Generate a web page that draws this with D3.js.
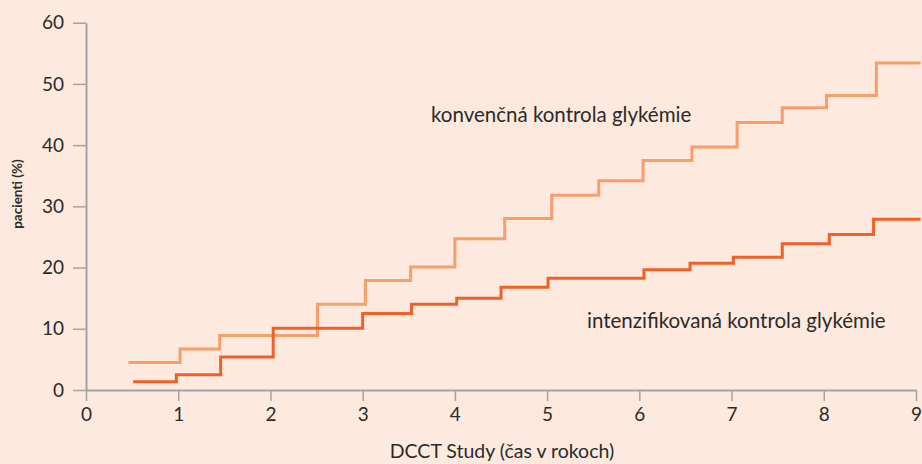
<!DOCTYPE html>
<html>
<head>
<meta charset="utf-8">
<script src="https://cdn.jsdelivr.net/npm/d3@7"></script>
<style>
  html, body { margin: 0; padding: 0; background: #fde9dd; }
  svg { display: block; font-family: Lato, "Open Sans", sans-serif; }
</style>
</head>
<body>
<div id="chart"></div>
<script>
const width = 922;
const height = 464;

// tick labels
const xTicks = [0, 1, 2, 3, 4, 5, 6, 7, 8, 9];
const yTicks = [0, 10, 20, 30, 40, 50, 60];

// step points [rok, %] - konvenčná kontrola
const convX = [0.46, 1.02, 1.45, 2.51, 3.03, 3.52, 4.0, 4.54, 5.05, 5.56, 6.04, 6.57, 7.06, 7.55, 8.03, 8.57, 9.05];
const convY = [4.5, 6.7, 8.9, 14.0, 17.9, 20.1, 24.7, 28.0, 31.8, 34.2, 37.5, 39.7, 43.7, 46.1, 48.1, 53.4, 53.4];

// intenzifikovaná kontrola
const intX = [0.51, 0.98, 1.46, 2.03, 3.0, 3.53, 4.02, 4.5, 5.01, 6.05, 6.55, 7.02, 7.55, 8.06, 8.54, 9.05];
const intY = [1.35, 2.5, 5.4, 10.1, 12.5, 14.0, 15.0, 16.8, 18.25, 19.65, 20.7, 21.7, 23.9, 25.4, 27.9, 27.9];

const convColor = '#f99d6c';
const intColor = '#f0612a';
const axisColor = '#a3a3a3';
const textColor = '#2b2b2b';

const x = d3.scaleLinear().domain([0, 9]).range([86, 916]);
const y = d3.scaleLinear().domain([0, 60]).range([390, 22.7]);

const svg = d3.select('#chart')
    .append('svg')
    .attr('width', width)
    .attr('height', height);

svg.append('rect')
    .attr('width', width)
    .attr('height', height)
    .attr('fill', '#fde9dd');

// y axis
const yAxis = svg.append('g')
    .attr('transform', `translate(${x(0)},0)`)
    .call(d3.axisLeft(y).tickValues(yTicks).tickSize(13).tickSizeOuter(0).tickPadding(9));

// x axis
const xAxis = svg.append('g')
    .attr('transform', `translate(0,${y(0)})`)
    .call(d3.axisBottom(x).tickValues(xTicks).tickSize(11).tickSizeOuter(0).tickPadding(7));

[yAxis, xAxis].forEach(a => {
    a.select('.domain').attr('stroke', axisColor).attr('stroke-width', 2);
    a.selectAll('.tick line').attr('stroke', axisColor).attr('stroke-width', 1.5);
    a.selectAll('.tick text')
        .attr('fill', textColor)
        .style('font-size', '19px')
        .style('font-family', 'Lato, sans-serif');
});

// step lines
const line = d3.line()
    .x(d => x(d[0]))
    .y(d => y(d[1]))
    .curve(d3.curveStepAfter);

svg.append('path')
    .datum(d3.zip(convX, convY))
    .attr('fill', 'none')
    .attr('stroke', convColor)
    .attr('stroke-width', 3)
    .attr('d', line);

svg.append('path')
    .datum(d3.zip(intX, intY))
    .attr('fill', 'none')
    .attr('stroke', intColor)
    .attr('stroke-width', 3)
    .attr('d', line);

// labels
svg.append('text')
    .attr('x', 431)
    .attr('y', 122)
    .attr('fill', textColor)
    .style('font-size', '20.5px')
    .text('konvenčná kontrola glykémie');

svg.append('text')
    .attr('x', 587)
    .attr('y', 328)
    .attr('fill', textColor)
    .style('font-size', '20.5px')
    .text('intenzifikovaná kontrola glykémie');

svg.append('text')
    .attr('x', 502)
    .attr('y', 458)
    .attr('text-anchor', 'middle')
    .attr('fill', textColor)
    .style('font-size', '19.5px')
    .text('DCCT Study (čas v rokoch)');

svg.append('text')
    .attr('transform', 'translate(22,194) rotate(-90)')
    .attr('text-anchor', 'middle')
    .attr('fill', textColor)
    .style('font-size', '13.5px')
    .style('font-weight', 'bold')
    .text('pacienti (%)');
</script>
</body>
</html>
